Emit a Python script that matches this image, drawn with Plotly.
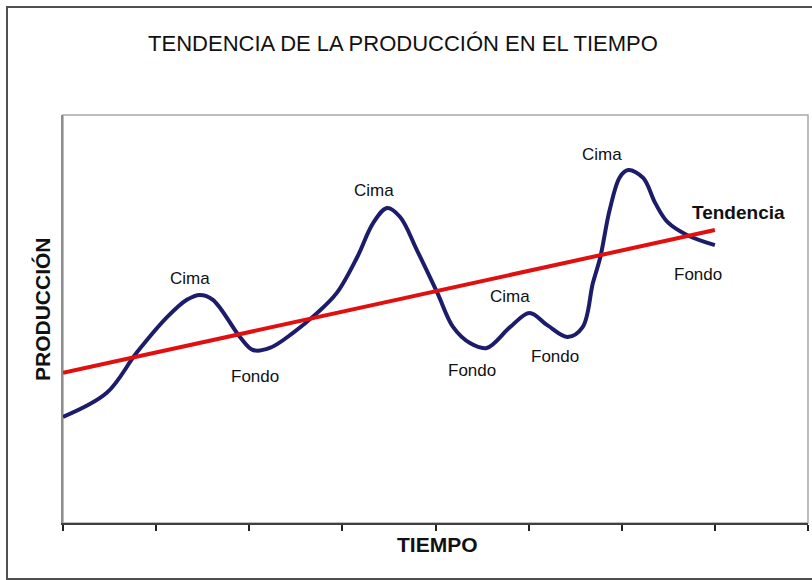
import plotly.graph_objects as go

# Production series (x in time periods, y in production units)
tiempo = [0.00, 0.47, 0.79, 1.12, 1.33, 1.47, 1.61, 1.90, 2.04, 2.22, 2.47, 2.73, 2.94,
          3.16, 3.33, 3.48, 3.62, 3.80, 4.02, 4.19, 4.37, 4.55, 4.80, 5.01, 5.20, 5.42,
          5.58, 5.69, 5.77, 5.87, 5.98, 6.07, 6.23, 6.36, 6.49, 6.70, 7.00]
produccion = [26.0, 31.9, 41.7, 50.5, 54.7, 55.9, 54.7, 45.6, 42.4, 42.9, 46.6, 51.5, 56.4,
              65.2, 73.5, 77.2, 75.0, 66.9, 56.4, 48.0, 44.1, 42.9, 48.0, 51.5, 48.5, 45.6,
              48.0, 58.8, 65.2, 76.7, 84.8, 86.5, 84.6, 78.4, 73.8, 70.6, 68.1]

# Trend line endpoints
tendencia_x = [0.0, 7.0]
tendencia_y = [36.8, 71.8]

# Labels for peaks / troughs
etiquetas = ["Cima", "Fondo", "Cima", "Fondo", "Cima", "Fondo", "Cima", "Fondo"]
etiq_x = [1.36, 2.06, 3.34, 4.39, 4.80, 5.28, 5.79, 6.82]
etiq_y = [60.0, 35.8, 81.6, 37.5, 55.4, 40.7, 90.2, 60.8]

x_ticks = [0, 1, 2, 3, 4, 5, 6, 7, 8]

FONT = "Liberation Sans, Arial, sans-serif"

fig = go.Figure()
fig.add_trace(go.Scatter(x=tiempo, y=produccion, mode="lines",
                         line=dict(color="#1c1c6b", width=4, shape="spline", smoothing=1.0),
                         hoverinfo="skip", showlegend=False))
fig.add_trace(go.Scatter(x=tendencia_x, y=tendencia_y, mode="lines",
                         line=dict(color="#e01010", width=4),
                         hoverinfo="skip", showlegend=False))

W, H = 812, 580
L, R, T, B = 63, 4, 115, 57
pw, ph = W - L - R, H - T - B

def px(x):
    return (x - L) / pw

def py(y):
    return (H - B - y) / ph

annotations = []
for t, x, y in zip(etiquetas, etiq_x, etiq_y):
    annotations.append(dict(x=x, y=y, xref="x", yref="y", text=t, showarrow=False,
                            xanchor="center", yanchor="middle",
                            font=dict(family=FONT, size=17, color="#111")))
annotations.append(dict(x=7.25, y=76.2, xref="x", yref="y", text="<b>Tendencia</b>",
                        showarrow=False, xanchor="center", yanchor="middle",
                        font=dict(family=FONT, size=19, color="#111")))
annotations.append(dict(x=px(42), y=py(309), xref="paper", yref="paper",
                        text="<b>PRODUCCIÓN</b>", textangle=-90, showarrow=False,
                        xanchor="center", yanchor="middle",
                        font=dict(family=FONT, size=21, color="#111")))
annotations.append(dict(x=px(437), y=py(544), xref="paper", yref="paper",
                        text="<b>TIEMPO</b>", showarrow=False,
                        xanchor="center", yanchor="middle",
                        font=dict(family=FONT, size=21, color="#111")))

shapes = [
    # outer chart border
    dict(type="rect", xref="paper", yref="paper", x0=px(7), x1=px(814), y0=py(579), y1=py(7),
         line=dict(color="#505050", width=2), layer="below"),
    # plot area border
    dict(type="rect", xref="paper", yref="paper", x0=0, x1=1, y0=0, y1=1,
         line=dict(color="#a8a8a8", width=1.5), layer="below"),
]

fig.update_layout(
    width=W, height=H,
    margin=dict(l=L, r=R, t=T, b=B),
    paper_bgcolor="white", plot_bgcolor="white",
    title=dict(text="TENDENCIA DE LA PRODUCCIÓN EN EL TIEMPO", x=403 / W, y=1 - 43 / H,
               xref="container", yref="container", xanchor="center", yanchor="middle",
               font=dict(family=FONT, size=22, color="#111")),
    xaxis=dict(range=[0, 8], tickvals=x_ticks, showticklabels=False, ticks="outside",
               ticklen=6, tickwidth=2, tickcolor="#222", showgrid=False, zeroline=False,
               showline=True, linecolor="#404040", linewidth=2),
    yaxis=dict(range=[0, 100], showticklabels=False, ticks="", showgrid=False,
               zeroline=False, showline=True, linecolor="#8c8c8c", linewidth=1.5),
    annotations=annotations,
    shapes=shapes,
)

fig.write_html("out.html", config={"displayModeBar": False},
               post_script="document.body.style.margin='0';")
